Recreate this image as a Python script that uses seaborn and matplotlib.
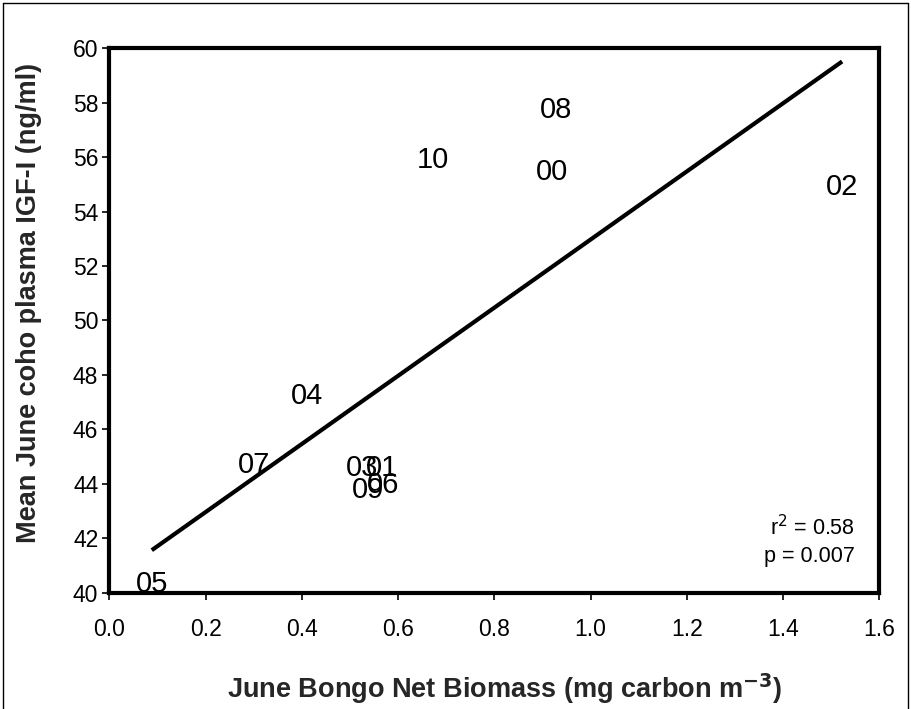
import matplotlib
matplotlib.use("Agg")
import matplotlib.pyplot as plt
import seaborn as sns
import pandas as pd
from matplotlib.lines import Line2D

years = ["08", "10", "00", "02", "04", "07", "03", "01", "09", "06", "05"]
biomass = [0.928, 0.672, 0.920, 1.523, 0.411, 0.300, 0.525, 0.567, 0.537, 0.569, 0.088]
igf = [57.72, 55.89, 55.45, 54.90, 47.23, 44.70, 44.59, 44.59, 43.78, 43.96, 40.33]
x_ticks = [0.0, 0.2, 0.4, 0.6, 0.8, 1.0, 1.2, 1.4, 1.6]
y_ticks = [40, 42, 44, 46, 48, 50, 52, 54, 56, 58, 60]

df = pd.DataFrame({"year": years, "biomass": biomass, "igf": igf})

sns.set_theme(style="white")
plt.rcParams["font.family"] = ["Liberation Sans", "DejaVu Sans"]

fig = plt.figure(figsize=(9.12, 7.09), dpi=100)
ax = fig.add_axes([0.120, 0.164, 0.844, 0.768])

sns.regplot(data=df, x="biomass", y="igf", ax=ax, ci=None, scatter=False,
            truncate=True, line_kws=dict(color="black", lw=3.0, solid_capstyle="butt"))

for _, r in df.iterrows():
    ax.text(r["biomass"], r["igf"], r["year"], ha="center", va="center",
            fontsize=21, color="black")

ax.set_xlim(0, 1.6)
ax.set_ylim(40, 60)
ax.set_xticks(x_ticks)
ax.set_xticklabels([f"{t:.1f}" for t in x_ticks])
ax.set_yticks(y_ticks)
ax.set_yticklabels([str(t) for t in y_ticks])
ax.tick_params(axis="both", direction="out", length=5, width=1.2, color="black",
               labelsize=16.5, labelcolor="black", bottom=True, left=True)
ax.tick_params(axis="x", pad=13)
ax.tick_params(axis="y", pad=3)
for s in ax.spines.values():
    s.set_linewidth(3.0)
    s.set_color("black")

ax.set_xlabel("June Bongo Net Biomass (mg carbon m$^{\\mathbf{-3}}$)", fontsize=19.5,
              fontweight="bold")
ax.xaxis.set_label_coords(0.513, -0.145)
ax.set_ylabel("Mean June coho plasma IGF-I (ng/ml)", fontsize=19.5,
              fontweight="bold")
ax.yaxis.set_label_coords(-0.088, 0.532)

ax.text(0.969, 0.095, "r$^2$ = 0.58\np = 0.007", transform=ax.transAxes,
        ha="right", va="center", fontsize=15.5, linespacing=1.35, color="black")

# figure border
for xs, ys in [([3/912, 3/912], [0, 1 - 3/709]),
               ([3/912, 908/912], [1 - 3/709, 1 - 3/709]),
               ([908/912, 908/912], [0, 1 - 3/709])]:
    fig.add_artist(Line2D(xs, ys, transform=fig.transFigure, color="black", lw=1.0))

fig.savefig("out.png", dpi=100)
